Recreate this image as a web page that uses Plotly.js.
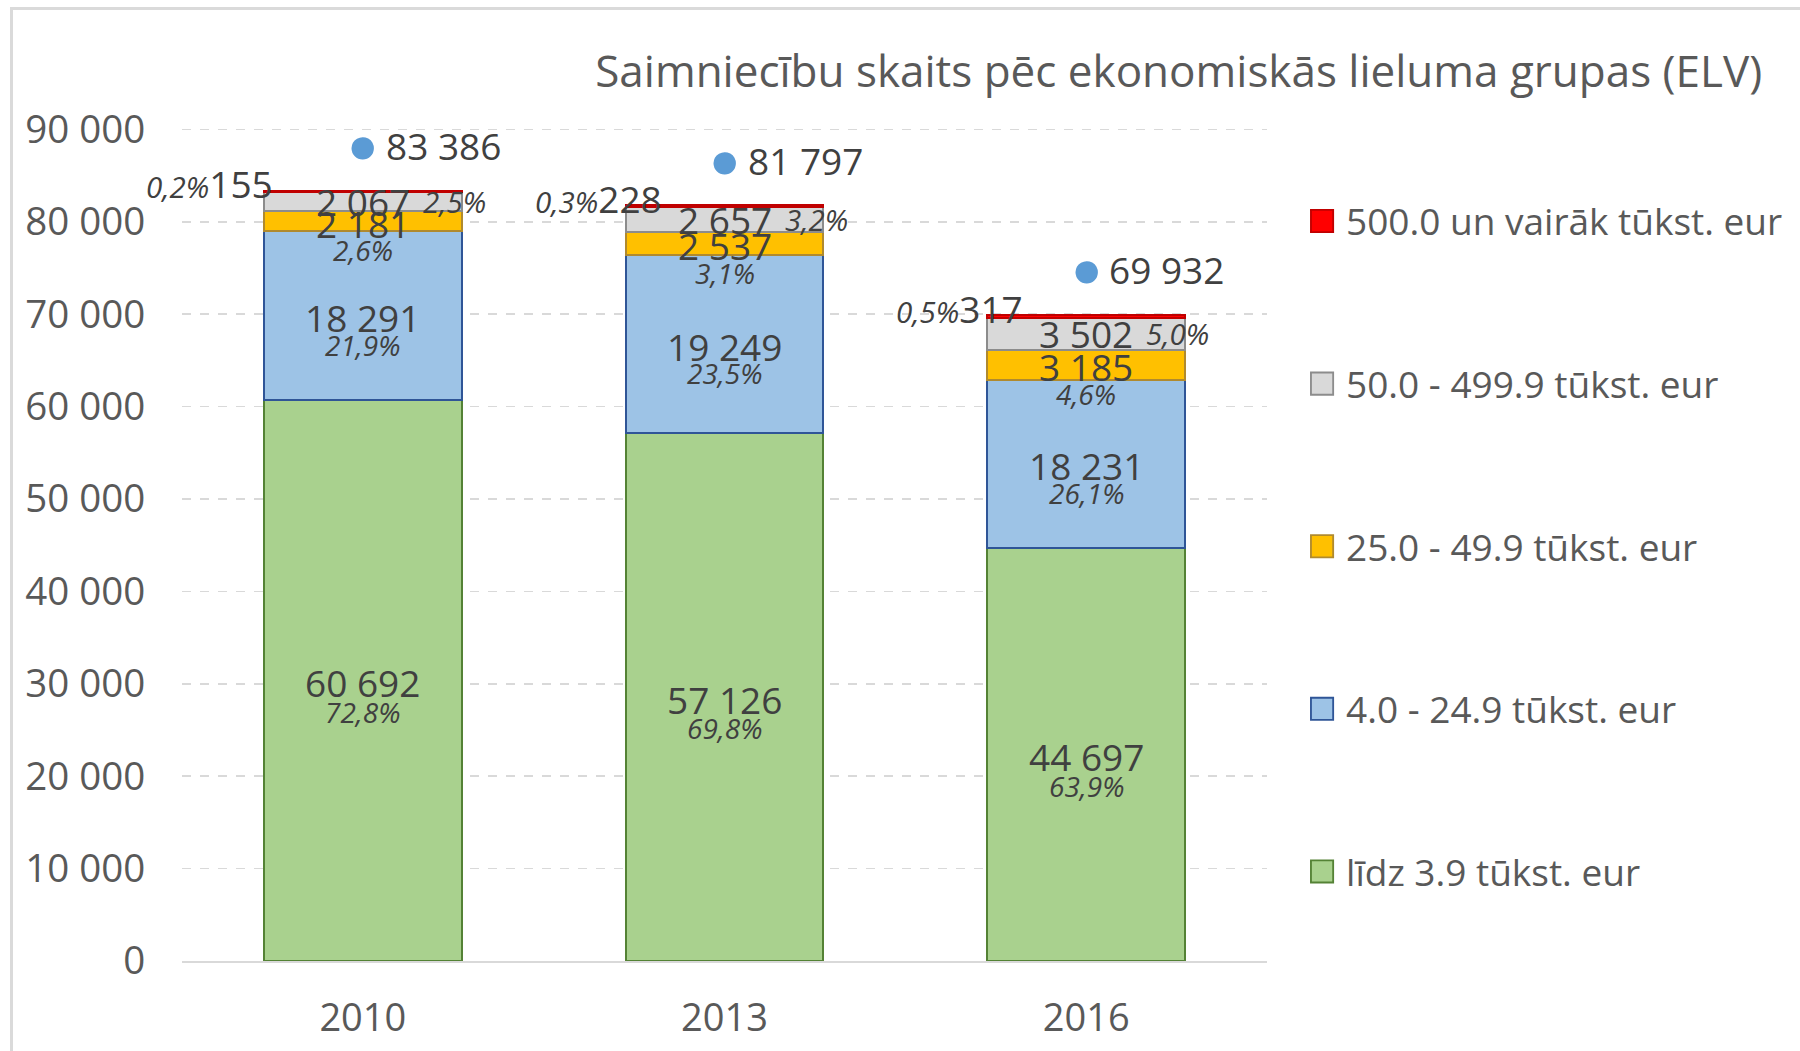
<!DOCTYPE html>
<html>
<head>
<meta charset="utf-8">
<script src="https://cdn.plot.ly/plotly-3.0.1.min.js"></script>
<style>
  html, body { margin: 0; padding: 0; background: #ffffff; }
  #chart { width: 1800px; height: 1051px; }
  #frame { position: absolute; left: 10px; top: 7px; width: 1900px; height: 1200px;
           border-left: 3px solid #DADADA; border-top: 3px solid #DADADA; pointer-events: none; }
</style>
</head>
<body>
<div id="chart"></div>
<div id="frame"></div>
<script>
// ---- data ----
const years = ["2010", "2013", "2016"];
const seriesNames = [
  "līdz 3.9 tūkst. eur",
  "4.0 - 24.9 tūkst. eur",
  "25.0 - 49.9 tūkst. eur",
  "50.0 - 499.9 tūkst. eur",
  "500.0 un vairāk tūkst. eur"
];
const small = [60692, 57126, 44697];      // līdz 3.9
const lower = [18291, 19249, 18231];      // 4.0 - 24.9
const middle = [2181, 2537, 3185];        // 25.0 - 49.9
const upper = [2067, 2657, 3502];         // 50.0 - 499.9
const largest = [155, 228, 317];          // 500.0 un vairāk
const totals = [83386, 81797, 69932];

const pctSmall = ["72,8%", "69,8%", "63,9%"];
const pctLower = ["21,9%", "23,5%", "26,1%"];
const pctMiddle = ["2,6%", "3,1%", "4,6%"];
const pctUpper = ["2,5%", "3,2%", "5,0%"];
const pctLargest = ["0,2%", "0,3%", "0,5%"];

// ---- styles ----
const fills = ["#A9D18E", "#9DC3E6", "#FFC000", "#D9D9D9", "#FF0000"];
const borders = ["#548235", "#2F5597", "#B08A2E", "#8C8C8C", "#C00000"];
const valueColor = "#404040";
const axisColor = "#595959";
const FONT = "Open Sans, Liberation Sans, sans-serif";
const redLabelShift = [-88, -61, -61];   // label placement per bar (px)

const seriesValues = [small, lower, middle, upper, largest];
const seriesPct = [pctSmall, pctLower, pctMiddle, pctUpper, pctLargest];

function fmt(n) { return String(n).replace(/\B(?=(\d{3})+(?!\d))/g, " "); }

const traces = seriesValues.map((vals, s) => ({
  type: "bar",
  name: seriesNames[s],
  x: years,
  y: vals,
  legendgroup: "g" + s,
  legendrank: 10 - s,
  marker: { color: fills[s], line: { color: borders[s], width: 2 } },
  textposition: "none",
  hoverinfo: "name+y"
}));

const annotations = [];
years.forEach((yr, i) => {
  let base = 0;
  seriesValues.forEach((vals, s) => {
    const v = vals[i];
    const c = base + v / 2;
    base += v;
    if (s <= 2) {
      annotations.push({ x: i, y: c, xref: "x", yref: "y", text: fmt(v), showarrow: false,
        font: { family: FONT, size: 37, color: valueColor }, yshift: -2 });
      annotations.push({ x: i, y: c, xref: "x", yref: "y", text: "<i>" + seriesPct[s][i] + "</i>", showarrow: false,
        font: { family: FONT, size: 28, color: valueColor }, yshift: s === 0 ? -31 : -29 });
    } else if (s === 3) {
      annotations.push({ x: i, y: c, xref: "x", yref: "y", text: fmt(v), showarrow: false,
        font: { family: FONT, size: 37, color: valueColor }, yshift: 0 });
      annotations.push({ x: i, y: c, xref: "x", yref: "y", text: "<i>" + seriesPct[s][i] + "</i>", showarrow: false,
        xanchor: "left", xshift: 58, font: { family: FONT, size: 29.5, color: valueColor }, yshift: 0 });
    } else {
      annotations.push({ x: i, y: c, xref: "x", yref: "y",
        text: "<i><span style='font-size:29.5px'>" + seriesPct[s][i] + "</span></i>" + fmt(v),
        showarrow: false, xanchor: "right", xshift: redLabelShift[i], yshift: 8,
        font: { family: FONT, size: 37, color: valueColor } });
    }
  });
  // total: blue dot + number
  annotations.push({ x: i, y: totals[i], xref: "x", yref: "y",
    text: "●",
    showarrow: false, xanchor: "center", yshift: 48,
    font: { family: FONT, size: 52, color: "#5B9BD5" } });
  annotations.push({ x: i, y: totals[i], xref: "x", yref: "y",
    text: fmt(totals[i]),
    showarrow: false, xanchor: "left", xshift: 21, yshift: 45,
    font: { family: FONT, size: 37, color: valueColor } });
});

const layout = {
  width: 1800, height: 1051,
  paper_bgcolor: "#ffffff", plot_bgcolor: "#ffffff",
  margin: { l: 182, r: 529, t: 128, b: 90 },
  separators: ", ",
  barmode: "stack",
  bargap: 0.453,
  font: { family: FONT, color: axisColor },
  title: {
    text: "Saimniecību skaits pēc ekonomiskās lieluma grupas (ELV)",
    xref: "container", yref: "container", x: 0.979, xanchor: "right", y: 0.932, yanchor: "middle",
    font: { family: FONT, size: 44, color: axisColor }
  },
  xaxis: {
    type: "category", range: [-0.5, 2.5],
    showline: true, linecolor: "#D9D9D9", linewidth: 2,
    ticks: "outside", ticklen: 0, tickcolor: "rgba(0,0,0,0)",
    ticklabelstandoff: 22,
    tickfont: { family: FONT, size: 38, color: axisColor },
    showgrid: false, fixedrange: true
  },
  yaxis: {
    range: [0, 90150], tickvals: [0, 10000, 20000, 30000, 40000, 50000, 60000, 70000, 80000, 90000],
    tickformat: ",d",
    showgrid: true, gridcolor: "#D9D9D9", gridwidth: 1.5, griddash: "dash",
    zeroline: false, showline: false,
    ticks: "outside", ticklen: 0, tickcolor: "rgba(0,0,0,0)",
    ticklabelstandoff: 28,
    tickfont: { family: FONT, size: 38.5, color: axisColor }, fixedrange: true
  },
  legend: {
    x: 1.036, xanchor: "left", y: 0.925, yanchor: "top",
    traceorder: "grouped", tracegroupgap: 111.5,
    font: { family: FONT, size: 37, color: axisColor },
    bgcolor: "rgba(0,0,0,0)"
  },
  annotations: annotations
};

Plotly.newPlot("chart", traces, layout, { displayModeBar: false, staticPlot: true }).then(gd => {
  // enlarge the legend keys to match the reference's bigger squares
  gd.querySelectorAll(".legend .legendpoints path").forEach(p => {
    p.setAttribute("transform", "translate(16,0) scale(1.85)");
    p.style.strokeWidth = "1px";
  });
});
</script>
</body>
</html>
